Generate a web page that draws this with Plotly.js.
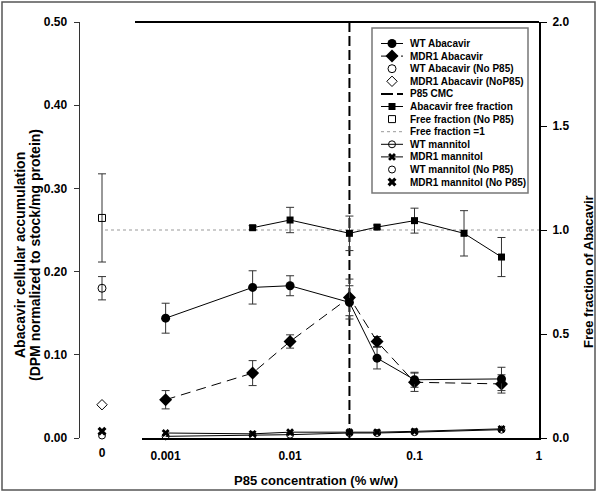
<!DOCTYPE html>
<html><head><meta charset="utf-8">
<script src="https://cdn.plot.ly/plotly-3.0.1.min.js"></script>
<style>html,body{margin:0;padding:0;background:#fff;}#chart{width:600px;height:494px;}</style>
</head><body><div id="chart"></div>
<script>
// ---------------- data ----------------
const concentrations = [0.001, 0.005, 0.01, 0.03, 0.05, 0.1, 0.5];
const wtAbacavir      = [0.144, 0.181, 0.183, 0.163, 0.096, 0.070, 0.071];
const wtAbacavirErr   = [0.018, 0.020, 0.012, 0.020, 0.013, 0.009, 0.014];
const mdr1Abacavir    = [0.046, 0.078, 0.116, 0.169, 0.116, 0.067, 0.065];
const mdr1AbacavirErr = [0.011, 0.015, 0.008, 0.022, 0.006, 0.011, 0.011];
const ffConcentrations = [0.005, 0.01, 0.03, 0.05, 0.1, 0.25, 0.5];
const freeFraction     = [1.011, 1.048, 0.984, 1.014, 1.045, 0.984, 0.870];
const freeFractionErr  = [0.010, 0.061, 0.083, 0.010, 0.060, 0.109, 0.094];
const wtMannitol   = [0.002, 0.003, 0.004, 0.006, 0.006, 0.007, 0.010];
const mdr1Mannitol = [0.006, 0.005, 0.007, 0.007, 0.007, 0.008, 0.011];
const noP85X = [0];
const noP85Label = ['0'];
const wtAbacavirNoP85 = [0.180], wtAbacavirNoP85Err = [0.014];
const mdr1AbacavirNoP85 = [0.040];
const freeFractionNoP85 = [1.058], freeFractionNoP85Err = [0.212];
const wtMannitolNoP85 = [0.003];
const mdr1MannitolNoP85 = [0.008];
const p85CMC = 0.03;
const freeFractionOne = 1;
const xTickVals = [0.001, 0.01, 0.1, 1];
const xTickText = ['0.001', '0.01', '0.1', '1'];
const leftTicks = [0, 0.1, 0.2, 0.3, 0.4, 0.5];
const rightTicks = [0, 0.5, 1, 1.5, 2];
const legendNames = ['WT Abacavir', 'MDR1 Abacavir', 'WT Abacavir (No P85)', 'MDR1 Abacavir (NoP85)',
  'P85 CMC', 'Abacavir free fraction', 'Free fraction (No P85)', 'Free fraction =1',
  'WT mannitol', 'MDR1 mannitol', 'WT mannitol (No P85)', 'MDR1 mannitol (No P85)'];
const leftTitleLines = ['Abacavir cellular accumulation', '(DPM normalized to stock/mg protein)'];
const rightTitle = 'Free fraction of Abacavir';
const bottomTitle = 'P85 concentration (% w/w)';

// ---------------- geometry / style ----------------
const FONT = 'Liberation Sans, Arial, Helvetica, sans-serif';
const L = 80, R = 539, T = 22, B = 438;
const W = R - L, H = B - T;
const px = x => (x - L) / W, py = y => (B - y) / H;
const err = arr => ({type: 'data', array: arr, visible: true, color: '#333', thickness: 1, width: 4});

const styles = {
  wt:   {mode: 'lines+markers', line: {color: '#000', width: 1}, marker: {symbol: 'circle', size: 9, color: '#000'}},
  mdr1: {mode: 'lines+markers', line: {color: '#000', width: 1, dash: '10px,6px'}, marker: {symbol: 'diamond', size: 10, color: '#000'}},
  wtNo: {mode: 'markers', marker: {symbol: 'circle-open', size: 8, color: '#000', line: {width: 1}}},
  mdr1No: {mode: 'markers', marker: {symbol: 'diamond-open', size: 8, color: '#000', line: {width: 1}}},
  cmc:  {mode: 'lines', line: {color: '#000', width: 2, dash: '10px,4px'}},
  ff:   {mode: 'lines+markers', line: {color: '#000', width: 1}, marker: {symbol: 'square', size: 7, color: '#000'}},
  ffNo: {mode: 'markers', marker: {symbol: 'square-open', size: 7, color: '#000', line: {width: 1}}},
  ffOne: {mode: 'lines', line: {color: '#999', width: 1, dash: 'dot'}},
  wtMan: {mode: 'lines+markers', line: {color: '#000', width: 1}, marker: {symbol: 'circle-open', size: 7, color: '#000', line: {width: 1}}},
  mdr1Man: {mode: 'lines+markers', line: {color: '#000', width: 1}, marker: {symbol: 'x', size: 7, color: '#000'}},
  wtManNo: {mode: 'markers', marker: {symbol: 'circle-open', size: 7, color: '#000', line: {width: 1}}},
  mdr1ManNo: {mode: 'markers', marker: {symbol: 'x', size: 8, color: '#000'}}
};
const legendOrder = ['wt','mdr1','wtNo','mdr1No','cmc','ff','ffNo','ffOne','wtMan','mdr1Man','wtManNo','mdr1ManNo'];

const base = (s) => JSON.parse(JSON.stringify(styles[s]));
const traces = [];
function add(style, extra) { traces.push(Object.assign(base(style), {showlegend: false, hoverinfo: 'skip', cliponaxis: false}, extra)); }

add('cmc', {x: [p85CMC, p85CMC], y: [leftTicks[0], leftTicks[leftTicks.length-1]], xaxis: 'x', yaxis: 'y', cliponaxis: true});
add('ff', {x: ffConcentrations, y: freeFraction, error_y: err(freeFractionErr), xaxis: 'x', yaxis: 'y2'});
add('wtMan', {x: concentrations, y: wtMannitol, xaxis: 'x', yaxis: 'y'});
add('mdr1Man', {x: concentrations, y: mdr1Mannitol, xaxis: 'x', yaxis: 'y'});
add('mdr1', {x: concentrations, y: mdr1Abacavir, error_y: err(mdr1AbacavirErr), xaxis: 'x', yaxis: 'y'});
add('wt', {x: concentrations, y: wtAbacavir, error_y: err(wtAbacavirErr), xaxis: 'x', yaxis: 'y'});
add('ffNo', {x: noP85X, y: freeFractionNoP85, error_y: err(freeFractionNoP85Err), xaxis: 'x2', yaxis: 'y2'});
add('wtNo', {x: noP85X, y: wtAbacavirNoP85, error_y: err(wtAbacavirNoP85Err), xaxis: 'x2', yaxis: 'y'});
add('mdr1No', {x: noP85X, y: mdr1AbacavirNoP85, xaxis: 'x2', yaxis: 'y'});
add('wtManNo', {x: noP85X, y: wtMannitolNoP85, xaxis: 'x2', yaxis: 'y'});
add('mdr1ManNo', {x: noP85X, y: mdr1MannitolNoP85, xaxis: 'x2', yaxis: 'y'});

// ---------------- manual legend (pixel coords on hidden axes x3/y3) ----------------
const LG = {x0: 372, x1: 528, y0: 28, y1: 193, row0: 43.5, rowStep: 12.6, lineX0: 381, lineX1: 403, symX: 392, textX: 408};
const annotations = [];
const shapes = [];
legendOrder.forEach((k, i) => {
  const yy = LG.row0 + i * LG.rowStep;
  const s = styles[k];
  if (s.mode.indexOf('lines') >= 0) {
    traces.push({x: [LG.lineX0, LG.lineX1], y: [yy, yy], xaxis: 'x3', yaxis: 'y3', mode: 'lines',
      line: Object.assign({}, s.line, k === 'mdr1' ? {dash: '7px,3px'} : (k === 'cmc' ? {dash: '12px,4px'} : {})),
      showlegend: false, hoverinfo: 'skip'});
  }
  if (s.mode.indexOf('markers') >= 0) {
    traces.push({x: [LG.symX], y: [yy], xaxis: 'x3', yaxis: 'y3', mode: 'markers', marker: s.marker, showlegend: false, hoverinfo: 'skip'});
  }
  annotations.push({xref: 'x3', yref: 'y3', x: LG.textX, y: yy, text: legendNames[i], showarrow: false,
    xanchor: 'left', yanchor: 'middle', font: {family: FONT, size: 10, weight: 'bold', color: '#000'}});
});
shapes.push({type: 'rect', xref: 'x3', yref: 'y3', x0: LG.x0, x1: LG.x1, y0: LG.y0, y1: LG.y1,
  line: {color: '#777', width: 1.5}, fillcolor: '#fff', layer: 'below'});

// reference line: free fraction = 1
shapes.push({type: 'line', xref: 'paper', yref: 'y2', x0: px(105), x1: 1, y0: freeFractionOne, y1: freeFractionOne,
  line: {color: '#999', width: 1, dash: 'dot'}, layer: 'below'});
// top frame line
shapes.push({type: 'line', xref: 'paper', yref: 'paper', x0: px(135), x1: 1, y0: 1, y1: 1, line: {color: '#000', width: 2}});
// outer border
shapes.push({type: 'rect', xref: 'paper', yref: 'paper', x0: px(2), x1: px(595), y0: py(490), y1: py(2),
  line: {color: '#555', width: 1.5}, fillcolor: 'rgba(0,0,0,0)'});

// axis titles as annotations
const titleFont = {family: FONT, size: 14, weight: 'bold', color: '#000'};
annotations.push({xref: 'paper', yref: 'paper', x: px(20), y: py(255), text: leftTitleLines[0],
  textangle: -90, showarrow: false, xanchor: 'center', yanchor: 'middle', font: titleFont});
annotations.push({xref: 'paper', yref: 'paper', x: px(35), y: py(255), text: leftTitleLines[1],
  textangle: -90, showarrow: false, xanchor: 'center', yanchor: 'middle', font: titleFont});
annotations.push({xref: 'paper', yref: 'paper', x: px(588), y: py(272), text: rightTitle,
  textangle: -90, showarrow: false, xanchor: 'center', yanchor: 'middle', font: {family: FONT, size: 13, weight: 'bold', color: '#000'}});
annotations.push({xref: 'paper', yref: 'paper', x: px(316), y: py(480), text: bottomTitle,
  showarrow: false, xanchor: 'center', yanchor: 'middle', font: {family: FONT, size: 13, weight: 'bold', color: '#000'}});

const tickFont = {family: FONT, size: 12, weight: 'bold', color: '#000'};
const layout = {
  width: 600, height: 494,
  margin: {l: L, r: 600 - R, t: T, b: 494 - B, pad: 0},
  paper_bgcolor: '#fff', plot_bgcolor: 'rgba(0,0,0,0)',
  showlegend: false,
  font: {family: FONT, color: '#000'},
  xaxis: {type: 'log', domain: [px(142), 1], range: [-3.19, 0.0005], anchor: 'y',
    showline: true, linecolor: '#000', linewidth: 2, ticks: '', tickvals: xTickVals, ticktext: xTickText,
    tickfont: tickFont, showgrid: false, zeroline: false, ticklabelstandoff: 6},
  xaxis2: {domain: [0, px(124)], range: [-1, 1], anchor: 'y', showline: false, ticks: '',
    tickvals: noP85X, ticktext: noP85Label, tickfont: tickFont, showgrid: false, zeroline: false, ticklabelstandoff: 6},
  yaxis: {range: [0, 0.5], anchor: 'x2', side: 'left', showline: true, linecolor: '#333', linewidth: 1.5,
    ticks: 'outside', ticklen: 5, tickcolor: '#333', tickwidth: 1, tickvals: leftTicks, tickformat: '.2f',
    tickfont: tickFont, showgrid: false, zeroline: false, ticklabelstandoff: 4},
  yaxis2: {range: [0, 2], overlaying: 'y', side: 'right', anchor: 'x', showline: true, linecolor: '#000', linewidth: 2,
    ticks: 'outside', ticklen: 6, tickcolor: '#000', tickwidth: 1, tickvals: rightTicks, tickformat: '.1f',
    tickfont: tickFont, showgrid: false, zeroline: false, ticklabelstandoff: 3},
  xaxis3: {domain: [0, 1], range: [L, R], anchor: 'y3', visible: false, fixedrange: true},
  yaxis3: {domain: [0, 1], range: [B, T], anchor: 'x3', visible: false, fixedrange: true},
  shapes: shapes,
  annotations: annotations
};
Plotly.newPlot('chart', traces, layout, {staticPlot: true, displayModeBar: false});
</script></body></html>
